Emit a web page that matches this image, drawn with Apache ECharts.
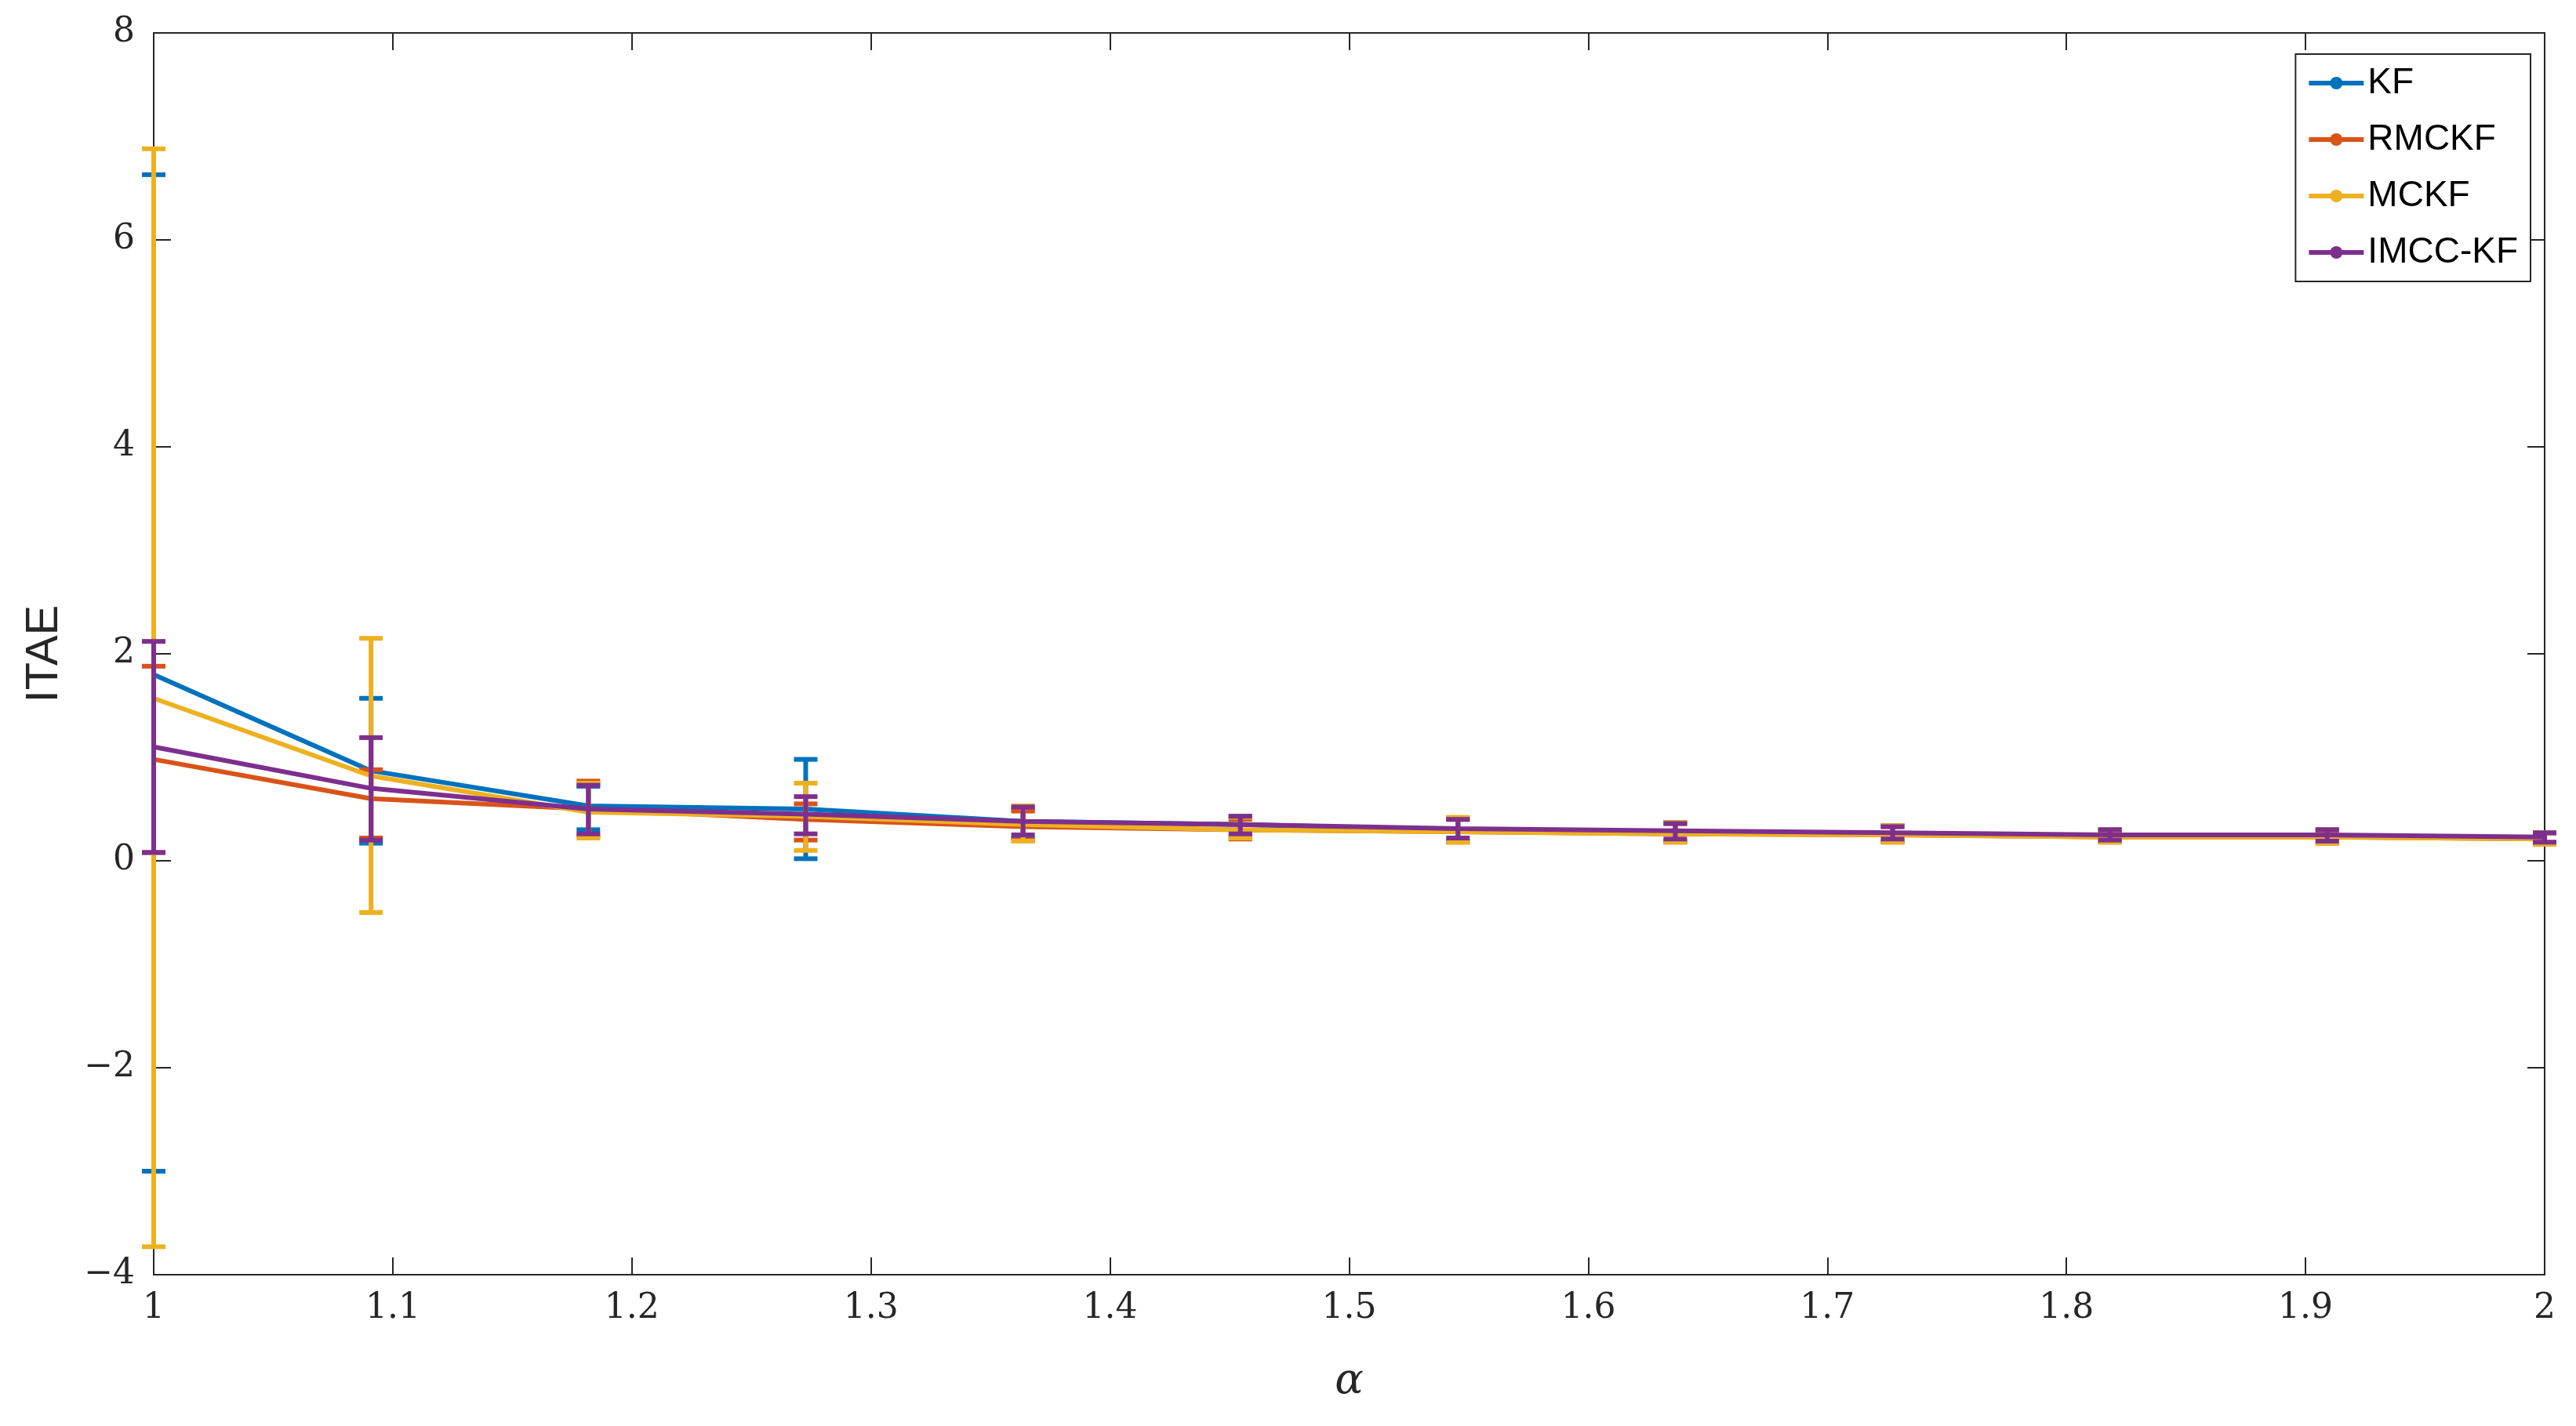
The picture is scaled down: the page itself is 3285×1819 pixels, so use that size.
<!DOCTYPE html>
<html>
<head>
<meta charset="utf-8">
<script src="https://cdn.jsdelivr.net/npm/echarts@6/dist/echarts.min.js"></script>
<style>html,body{margin:0;padding:0;background:#fff}#c{width:3285px;height:1819px}</style>
</head>
<body>
<div id="c"></div>
<script>
// alpha values: 1 .. 2 in 11 steps
const alphas = [1, 1.0909, 1.1818, 1.2727, 1.3636, 1.4545, 1.5455, 1.6364, 1.7273, 1.8182, 1.9091, 2];
const names = ['KF', 'RMCKF', 'MCKF', 'IMCC-KF'];
const colors = ['#0072BD', '#D95319', '#EDB120', '#7E2F8E'];

const kfMean = [1.80, 0.87, 0.53, 0.50, 0.38, 0.35, 0.30, 0.28, 0.26, 0.24, 0.24, 0.22];
const kfLo   = [-3.00, 0.17, 0.30, 0.02, 0.22, 0.24, 0.19, 0.19, 0.19, 0.19, 0.18, 0.17];
const kfHi   = [6.63, 1.57, 0.72, 0.98, 0.50, 0.43, 0.41, 0.37, 0.34, 0.30, 0.30, 0.27];

const rmMean = [0.98, 0.60, 0.50, 0.40, 0.33, 0.30, 0.28, 0.26, 0.25, 0.23, 0.23, 0.21];
const rmLo   = [0.08, 0.22, 0.24, 0.20, 0.20, 0.21, 0.18, 0.18, 0.18, 0.18, 0.17, 0.16];
const rmHi   = [1.88, 0.88, 0.77, 0.55, 0.48, 0.40, 0.40, 0.36, 0.33, 0.29, 0.29, 0.27];

const mcMean = [1.57, 0.82, 0.47, 0.43, 0.35, 0.30, 0.28, 0.26, 0.25, 0.23, 0.23, 0.21];
const mcLo   = [-3.73, -0.50, 0.22, 0.10, 0.19, 0.22, 0.18, 0.18, 0.18, 0.18, 0.17, 0.16];
const mcHi   = [6.88, 2.15, 0.75, 0.75, 0.53, 0.42, 0.42, 0.37, 0.34, 0.30, 0.30, 0.27];

const imMean = [1.10, 0.70, 0.50, 0.45, 0.38, 0.35, 0.31, 0.29, 0.27, 0.25, 0.25, 0.23];
const imLo   = [0.08, 0.20, 0.26, 0.26, 0.25, 0.26, 0.22, 0.21, 0.21, 0.20, 0.19, 0.18];
const imHi   = [2.12, 1.19, 0.73, 0.62, 0.52, 0.43, 0.40, 0.36, 0.33, 0.30, 0.30, 0.27];

const xTicks = [1, 1.1, 1.2, 1.3, 1.4, 1.5, 1.6, 1.7, 1.8, 1.9, 2];
const yTicks = [-4, -2, 0, 2, 4, 6, 8];

const means = [kfMean, rmMean, mcMean, imMean];
const lows = [kfLo, rmLo, mcLo, imLo];
const highs = [kfHi, rmHi, mcHi, imHi];

const chart = echarts.init(document.getElementById('c'));
const series = [];
names.forEach(function (n, i) {
  series.push({
    name: n, type: 'line', data: alphas.map((a, k) => [a, means[i][k]]),
    symbol: 'none', lineStyle: { color: colors[i], width: 6 }, itemStyle: { color: colors[i] },
    z: 2 + i
  });
  series.push({
    name: n, type: 'custom', z: 3 + i,
    data: alphas.map((a, k) => [a, lows[i][k], highs[i][k]]),
    renderItem: function (params, api) {
      const lo = api.coord([api.value(0), api.value(1)]);
      const hi = api.coord([api.value(0), api.value(2)]);
      const w = 15;
      const st = { stroke: colors[i], lineWidth: 6 };
      return { type: 'group', children: [
        { type: 'line', shape: { x1: lo[0], y1: lo[1], x2: hi[0], y2: hi[1] }, style: st },
        { type: 'line', shape: { x1: lo[0] - w, y1: lo[1], x2: lo[0] + w, y2: lo[1] }, style: st },
        { type: 'line', shape: { x1: hi[0] - w, y1: hi[1], x2: hi[0] + w, y2: hi[1] }, style: st }
      ] };
    }
  });
});

const axisFont = { fontFamily: 'DejaVu Serif', fontSize: 44, color: '#262626' };
const tickStyle = { inside: true, length: 22, lineStyle: { color: '#262626', width: 2 } };
const lineSt = { onZero: false, lineStyle: { color: '#262626', width: 2 } };
chart.setOption({
  animation: false,
  grid: { left: 196, right: 40, top: 42, bottom: 193, show: true, borderColor: '#262626', borderWidth: 2 },
  legend: {
    data: names.map((n, i) => ({ name: n, itemStyle: { color: colors[i] }, lineStyle: { color: colors[i], width: 6 } })),
    orient: 'vertical', right: 58, top: 69, itemGap: 26, itemWidth: 70, itemHeight: 20,
    backgroundColor: '#fff', borderColor: '#262626', borderWidth: 2, padding: [14, 16, 14, 14],
    textStyle: { fontFamily: 'Liberation Sans', fontSize: 46, color: '#000' }
  },
  xAxis: [{
    type: 'value', min: 1, max: 2, interval: 0.1,
    name: 'α', nameLocation: 'middle', nameGap: 110,
    nameTextStyle: { fontFamily: 'DejaVu Serif', fontStyle: 'italic', fontSize: 54, color: '#262626' },
    axisLine: lineSt, axisTick: tickStyle,
    axisLabel: Object.assign({ margin: 22, formatter: v => xTicks.includes(+v.toFixed(1)) ? v.toFixed(1).replace(/\.0$/, '') : '' }, axisFont),
    splitLine: { show: false }
  }, {
    type: 'value', min: 1, max: 2, interval: 0.1, position: 'top',
    axisLine: lineSt, axisTick: tickStyle, axisLabel: { show: false }, splitLine: { show: false }
  }],
  yAxis: [{
    type: 'value', min: -4, max: 8, interval: 2,
    name: 'ITAE', nameLocation: 'middle', nameGap: 110,
    nameTextStyle: { fontFamily: 'Liberation Sans', fontSize: 58, color: '#262626' },
    axisLine: lineSt, axisTick: tickStyle,
    axisLabel: Object.assign({ margin: 24, formatter: v => yTicks.includes(v) ? (v < 0 ? '\u2212' + (-v) : String(v)) : '' }, axisFont),
    splitLine: { show: false }
  }, {
    type: 'value', min: -4, max: 8, interval: 2, position: 'right',
    axisLine: lineSt, axisTick: tickStyle, axisLabel: { show: false }, splitLine: { show: false }
  }],
  series: series
});
</script>
</body>
</html>
